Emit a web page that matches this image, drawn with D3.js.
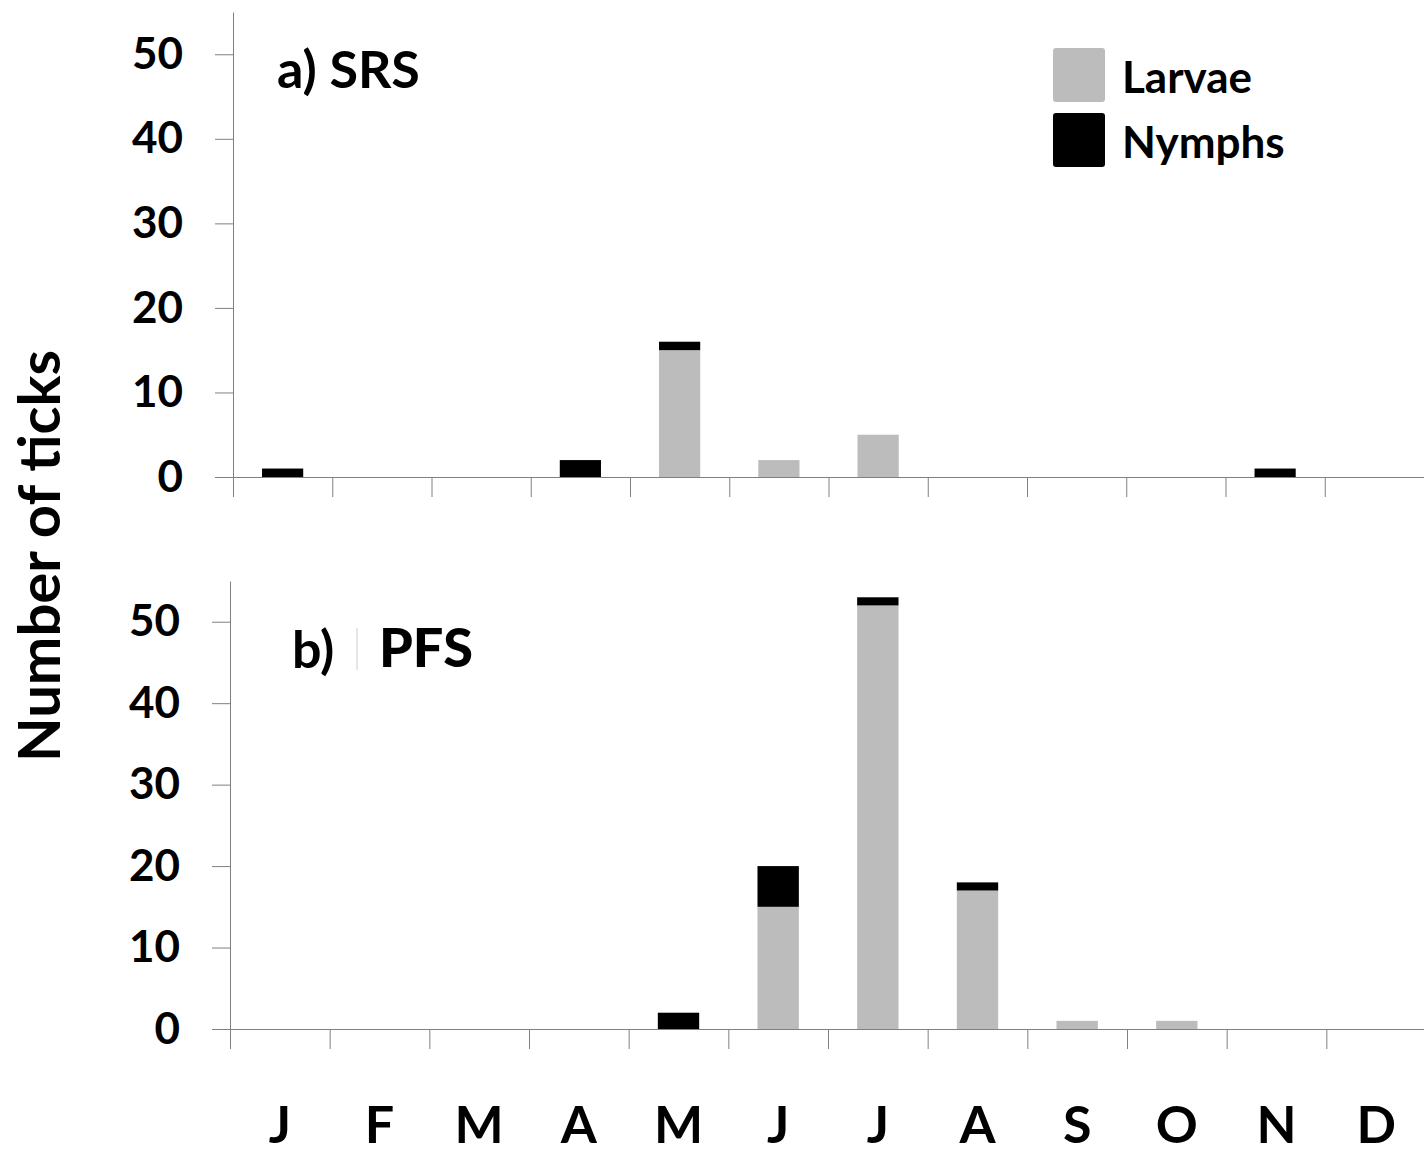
<!DOCTYPE html>
<html>
<head>
<meta charset="utf-8">
<script src="https://cdn.jsdelivr.net/npm/d3@7"></script>
<style>
  body { margin: 0; background: #fff; }
  svg { display: block; font-family: Lato, "Open Sans", sans-serif; }
</style>
</head>
<body>
<div id="chart"></div>
<script>
// month letters along the bottom
let months = ["J","F","M","A","M","J","J","A","S","O","N","D"];

// a) SRS
let srsLarvae = [0,0,0,0,15,2,5,0,0,0,0,0];
let srsNymphs = [1,0,0,2,1,0,0,0,0,0,1,0];

// b) PFS
let pfsLarvae = [0,0,0,0,0,15,52,17,1,1,0,0];
let pfsNymphs = [0,0,0,0,2,5,1,1,0,0,0,0];

let yTicks = [0,10,20,30,40,50];
let seriesNames = ["Larvae","Nymphs"];
let seriesColors = ["#bcbcbc","#000000"];

let width = 1424, height = 1154;

let svg = d3.select("#chart").append("svg")
  .attr("width",width)
  .attr("height",height);

// one panel = a y axis, a month axis and stacked bars
function panel(larvae, nymphs, box, label)
{
  let y = d3.scaleLinear().domain([0,55]).range([box.y0, box.y1]);
  let xb = d3.scaleBand().domain(d3.range(12)).range([box.x0, box.x1])
    .paddingInner(0.585).paddingOuter(0.2925);
  let xt = d3.scaleLinear().domain([0,12]).range([box.x0, box.x1]);

  let g = svg.append("g");

  // stacked bars, larvae at the bottom
  let rows = d3.range(12).map(function(i){ return {i:i, larvae:larvae[i], nymphs:nymphs[i]}; });
  let stack = d3.stack().keys(["larvae","nymphs"])(rows);

  g.selectAll(".layer").data(stack).enter().append("g")
    .attr("fill",function(d,k){ return seriesColors[k]; })
    .selectAll("rect").data(function(d){ return d.filter(function(s){ return s[1] > s[0]; }); })
    .enter().append("rect")
      .attr("x",function(d){ return xb(d.data.i); })
      .attr("width",xb.bandwidth())
      .attr("y",function(d){ return y(d[1]); })
      .attr("height",function(d){ return y(d[0]) - y(d[1]); });

  // y axis
  let ya = g.append("g")
    .attr("transform","translate("+box.x0+",0)")
    .call(d3.axisLeft(y).tickValues(yTicks).tickSize(18).tickSizeOuter(0).tickPadding(32));
  ya.attr("font-family",null);
  ya.select(".domain").attr("stroke","#808080");
  ya.selectAll(".tick line").attr("stroke","#808080");
  ya.selectAll(".tick text")
    .attr("fill","#000")
    .style("font-family","Lato, sans-serif")
    .style("font-size","44px")
    .style("font-weight","bold");

  // month axis, ticks on the band edges
  let xa = g.append("g")
    .attr("transform","translate(0,"+box.y0+")")
    .call(d3.axisBottom(xt).tickValues(d3.range(13)).tickSize(20).tickSizeOuter(0).tickFormat(""));
  xa.select(".domain").attr("stroke","#808080");
  xa.selectAll(".tick line").attr("stroke","#808080");

  // panel label
  label(g);
  return xb;
}

let xTop = panel(srsLarvae, srsNymphs, {x0:233, x1:1424, y0:477, y1:12}, function(g){
  g.append("text")
    .attr("x",277).attr("y",88)
    .style("font-size","52px").style("font-weight","bold")
    .text("a) SRS");
});

let xBottom = panel(pfsLarvae, pfsNymphs, {x0:230, x1:1426, y0:1029, y1:581}, function(g){
  g.append("text")
    .attr("x",292).attr("y",668)
    .style("font-size","52px").style("font-weight","bold")
    .text("b)");
  g.append("rect")
    .attr("x",356).attr("y",628).attr("width",2).attr("height",42)
    .attr("fill","#e6e6e6");
  g.append("text")
    .attr("x",379).attr("y",667)
    .style("font-size","54px").style("font-weight","900")
    .text("PFS");
});

// month letters under the lower panel
svg.append("g").selectAll("text").data(months).enter().append("text")
  .attr("x",function(d,i){ return xBottom(i) + xBottom.bandwidth()/2; })
  .attr("y",1143)
  .attr("text-anchor","middle")
  .style("font-size","52px")
  .style("font-weight","bold")
  .text(function(d){ return d; });

// shared y title
svg.append("text")
  .attr("transform","translate(60,556) rotate(-90)")
  .attr("text-anchor","middle")
  .style("font-size","58px")
  .style("font-weight","bold")
  .text("Number of ticks");

// legend
let legend = svg.append("g").selectAll("g").data(seriesNames).enter().append("g")
  .attr("transform",function(d,i){ return "translate(1053,"+(48+i*65)+")"; });

legend.append("rect")
  .attr("width",52).attr("height",54).attr("rx",3)
  .attr("fill",function(d,i){ return seriesColors[i]; });

legend.append("text")
  .attr("x",69).attr("y",45)
  .style("font-size","44px")
  .style("font-weight","bold")
  .text(function(d){ return d; });
</script>
</body>
</html>
